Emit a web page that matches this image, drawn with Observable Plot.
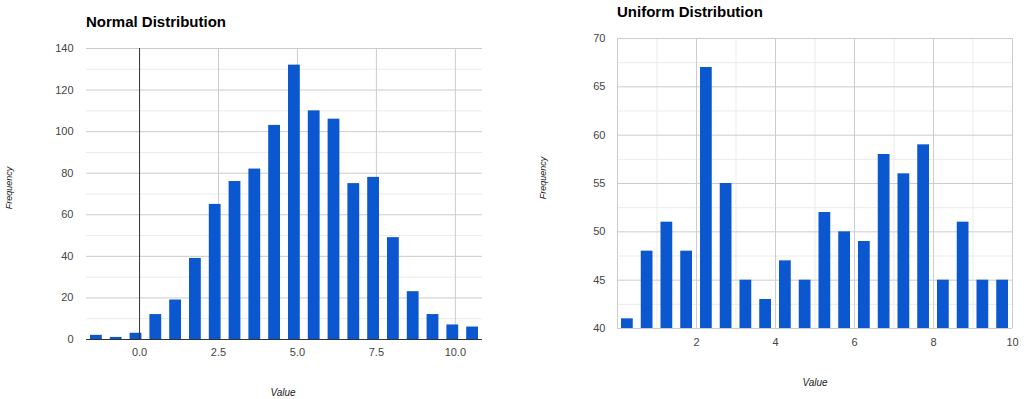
<!DOCTYPE html>
<html>
<head>
<meta charset="utf-8">
<script src="https://cdn.jsdelivr.net/npm/d3@7"></script>
<script src="https://cdn.jsdelivr.net/npm/@observablehq/plot@0.6"></script>
<style>
  html, body { margin: 0; padding: 0; background: #fff; }
  #wrap { position: relative; width: 1024px; height: 399px; overflow: hidden; font-family: "Liberation Sans", Arial, sans-serif; }
  .panel { position: absolute; top: 0; }
  .title { position: absolute; font-weight: bold; font-size: 15px; color: #000; white-space: nowrap; line-height: 1; }
  .axt { position: absolute; font-style: italic; font-size: 10px; color: #222; white-space: nowrap; line-height: 1; }
  .fq { font-size: 9px; }
  .rot { transform: translate(-50%, -50%) rotate(-90deg); }
  .hc { transform: translate(-50%, -50%); }
</style>
</head>
<body>
<div id="wrap">
  <div id="left" class="panel" style="left:0px"></div>
  <div id="right" class="panel" style="left:510px"></div>
  <div class="title" style="left:86px; top:14px">Normal Distribution</div>
  <div class="title" style="left:617px; top:4px">Uniform Distribution</div>
  <div class="axt fq rot" style="left:9px; top:188px">Frequency</div>
  <div class="axt fq rot" style="left:543px; top:178px">Frequency</div>
  <div class="axt hc" style="left:283px; top:393px">Value</div>
  <div class="axt hc" style="left:815px; top:383px">Value</div>
</div>
<script>
// ---- Normal distribution histogram ----
const normalBinStart = -1.68;
const normalBinWidth = 0.627;
const normalCounts = [2, 1, 3, 12, 19, 39, 65, 76, 82, 103, 132, 110, 106, 75, 78, 49, 23, 12, 7, 6];
const normalXTicks = [0, 2.5, 5, 7.5, 10];
const normalYTicks = [0, 20, 40, 60, 80, 100, 120, 140];
const normalYMinor = [10, 30, 50, 70, 90, 110, 130];

// ---- Uniform distribution histogram ----
const uniformBinStart = 0;
const uniformBinWidth = 0.5;
const uniformCounts = [41, 48, 51, 48, 67, 55, 45, 43, 47, 45, 52, 50, 49, 58, 56, 59, 45, 51, 45, 45];
const uniformXTicks = [2, 4, 6, 8, 10];
const uniformXMajorGrid = [0, 2, 4, 6, 8, 10];
const uniformXMinorGrid = [1, 3, 5, 7, 9];
const uniformYTicks = [40, 45, 50, 55, 60, 65, 70];
const uniformYMinor = [42.5, 47.5, 52.5, 57.5, 62.5, 67.5];

const barColor = "#0b57d0";
const font = "'Liberation Sans', Arial, sans-serif";

function bins(start, width, counts) {
  return counts.map((c, i) => ({x1: start + i * width, x2: start + (i + 1) * width, count: c}));
}

const normalData = bins(normalBinStart, normalBinWidth, normalCounts);
const uniformData = bins(uniformBinStart, uniformBinWidth, uniformCounts);

const leftPlot = Plot.plot({
  width: 510,
  height: 399,
  marginLeft: 86,
  marginRight: 28,
  marginTop: 48,
  marginBottom: 60,
  style: {fontFamily: font, fontSize: "11px", color: "#444", background: "transparent"},
  x: {domain: [normalBinStart, normalBinStart + normalCounts.length * normalBinWidth]},
  y: {domain: [0, 140]},
  marks: [
    Plot.ruleY(normalYMinor, {stroke: "#ebebeb"}),
    Plot.ruleY(normalYTicks, {stroke: "#cccccc"}),
    Plot.ruleX(normalXTicks.filter(d => d !== 0), {stroke: "#cccccc"}),
    Plot.rectY(normalData, {x1: "x1", x2: "x2", y1: 0, y2: "count", fill: barColor, insetLeft: 4, insetRight: 4}),
    Plot.ruleX([0], {stroke: "#333"}),
    Plot.ruleY([0], {stroke: "#333"}),
    Plot.axisX({ticks: normalXTicks, tickFormat: d3.format(".1f"), tickSize: 0, tickPadding: 9, label: null}),
    Plot.axisY({ticks: normalYTicks, tickSize: 0, tickPadding: 13, label: null})
  ]
});
document.getElementById("left").appendChild(leftPlot);

const rightPlot = Plot.plot({
  width: 514,
  height: 399,
  marginLeft: 107,
  marginRight: 12,
  marginTop: 38,
  marginBottom: 71,
  style: {fontFamily: font, fontSize: "11px", color: "#444", background: "transparent"},
  x: {domain: [uniformBinStart, uniformBinStart + uniformCounts.length * uniformBinWidth]},
  y: {domain: [40, 70]},
  marks: [
    Plot.ruleY(uniformYMinor, {stroke: "#ebebeb"}),
    Plot.ruleX(uniformXMinorGrid, {stroke: "#ebebeb"}),
    Plot.ruleY(uniformYTicks, {stroke: "#cccccc"}),
    Plot.ruleX(uniformXMajorGrid, {stroke: "#cccccc"}),
    Plot.rectY(uniformData, {x1: "x1", x2: "x2", y1: 40, y2: "count", fill: barColor, insetLeft: 4, insetRight: 4}),
    Plot.axisX({ticks: uniformXTicks, tickSize: 0, tickPadding: 10, label: null}),
    Plot.axisY({ticks: uniformYTicks, tickSize: 0, tickPadding: 12, label: null})
  ]
});
document.getElementById("right").appendChild(rightPlot);
</script>
</body>
</html>
